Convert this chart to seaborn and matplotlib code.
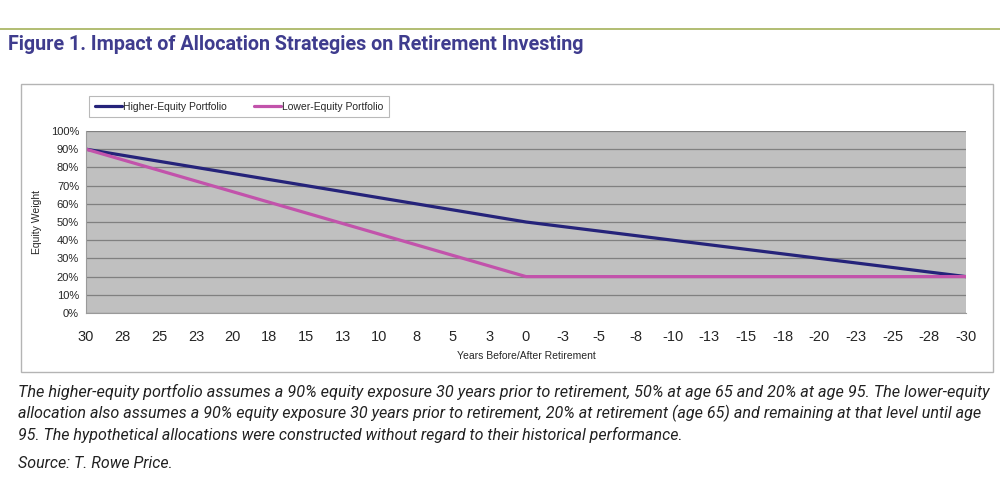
import numpy as np
import pandas as pd
import matplotlib
matplotlib.use('Agg')
import matplotlib.pyplot as plt
from matplotlib.patches import Rectangle
from matplotlib.lines import Line2D
from matplotlib.ticker import FixedLocator, MultipleLocator, FuncFormatter
import seaborn as sns

# years before (+) / after (-) retirement, and equity weight (%) at the glide-path kinks
years = [30, 0, -30]
higher_equity = [90, 50, 20]
lower_equity = [90, 20, 20]
series_names = ['Higher-Equity Portfolio', 'Lower-Equity Portfolio']
x_tick_years = [30, 27.5, 25, 22.5, 20, 17.5, 15, 12.5, 10, 7.5, 5, 2.5, 0,
                -2.5, -5, -7.5, -10, -12.5, -15, -17.5, -20, -22.5, -25, -27.5, -30]

title = 'Figure 1. Impact of Allocation Strategies on Retirement Investing'
note_lines = [
    'The higher-equity portfolio assumes a 90% equity exposure 30 years prior to retirement, 50% at age 65 and 20% at age 95. The lower-equity',
    'allocation also assumes a 90% equity exposure 30 years prior to retirement, 20% at retirement (age 65) and remaining at that level until age',
    '95. The hypothetical allocations were constructed without regard to their historical performance.',
]
source = 'Source: T. Rowe Price.'

df = pd.DataFrame({
    'year': years * 2,
    'weight': higher_equity + lower_equity,
    'series': [series_names[0]] * len(years) + [series_names[1]] * len(years),
})

sns.set_style('white')
plt.rcParams['font.family'] = ['Liberation Sans', 'DejaVu Sans']

W, H = 1000, 493
fig = plt.figure(figsize=(W / 100, H / 100), dpi=100)
renderer = fig.canvas.get_renderer()

def fx(px):
    return px / W

def fy(py):
    return 1 - py / H

def fit_width(txt, target_px):
    # shrink/grow a text so that it spans about target_px
    w = txt.get_window_extent(renderer).width
    txt.set_fontsize(txt.get_fontsize() * target_px / w)

# header rule and title
fig.add_artist(Line2D([0, 1], [fy(28.5), fy(28.5)], color='#a4b25a', lw=1.2))
t = fig.text(fx(8), fy(45), title, fontsize=14, fontweight='bold', color='#3f3c8e',
             family=['Roboto', 'DejaVu Sans'], va='center', ha='left')
fit_width(t, 577)

# chart frame
fig.add_artist(Rectangle((fx(21), fy(372)), fx(993) - fx(21), fy(84) - fy(372),
                         transform=fig.transFigure, fill=False, ec='#b4b4b4', lw=1))

ax = fig.add_axes([fx(86), fy(313), fx(966) - fx(86), fy(131) - fy(313)])
palette = {series_names[0]: '#25237a', series_names[1]: '#c253ab'}
sns.lineplot(data=df, x='year', y='weight', hue='series', palette=palette,
             lw=2.3, ax=ax, legend=False)

ax.set_facecolor('#c0c0c0')
ax.set_xlim(30, -30)
ax.set_ylim(0, 100)
ax.yaxis.set_major_locator(MultipleLocator(10))
ax.yaxis.set_major_formatter(FuncFormatter(lambda v, p: f'{v:.0f}%'))
ax.grid(axis='y', color='#808080', lw=0.9)
ax.set_axisbelow(True)

def excel_round(v, p):
    return f'{int(np.sign(v) * np.floor(abs(v) + 0.5))}'

ax.xaxis.set_major_locator(FixedLocator(x_tick_years))
ax.xaxis.set_major_formatter(FuncFormatter(excel_round))
ax.xaxis.set_minor_locator(MultipleLocator(0.25))

for s in ['top', 'right']:
    ax.spines[s].set_visible(False)
for s in ['left', 'bottom']:
    ax.spines[s].set_color('#9a9a9a')
    ax.spines[s].set_linewidth(0.8)

ax.tick_params(axis='y', which='major', length=3, color='#9a9a9a', labelsize=8, pad=2)
ax.tick_params(axis='x', which='major', length=4, color='#b0b0b0', labelsize=10.5, pad=8)
ax.tick_params(axis='x', which='minor', length=4, color='#b0b0b0', width=0.5)

ax.set_xlabel('')
ax.set_ylabel('')
fig.text(fx(526), fy(356), 'Years Before/After Retirement', fontsize=7.5,
         ha='center', va='center')
fig.text(fx(37), fy(222), 'Equity Weight', fontsize=7.5, rotation=90,
         ha='center', va='center')

# legend
handles = [Line2D([], [], color=palette[n], lw=2.3) for n in series_names]
leg = fig.legend(handles, series_names, loc='upper left',
                 bbox_to_anchor=(fx(89), fy(96)), ncol=2, fontsize=7.5,
                 frameon=True, fancybox=False, handlelength=2.6,
                 handletextpad=0.1, columnspacing=2.6, borderpad=0.55,
                 borderaxespad=0)
leg.get_frame().set_edgecolor('#a8a8a8')
leg.get_frame().set_linewidth(0.8)

# notes
note_targets = [967, 965, 664]
for i, line in enumerate(note_lines):
    t = fig.text(fx(18), fy(392 + i * 21.5), line, fontsize=11, style='italic',
                 family=['Roboto', 'DejaVu Sans'], color='#222222',
                 ha='left', va='center')
    fit_width(t, note_targets[i])
t = fig.text(fx(18), fy(464), source, fontsize=11, style='italic',
             family=['Roboto', 'DejaVu Sans'], color='#222222',
             ha='left', va='center')
fit_width(t, 155)

fig.savefig('out.png', dpi=100)
